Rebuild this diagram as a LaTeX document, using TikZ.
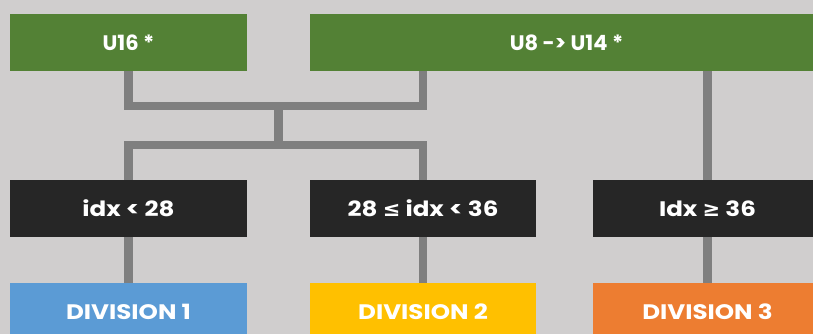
\documentclass[tikz,border=0pt]{standalone}
\usepackage{fontspec}
\setmainfont{Poppins}
\newfontfamily\widefont[FakeStretch=1.17]{Poppins}
\newfontfamily\symfont{DejaVu Sans}
\definecolor{bg}{HTML}{D0CECE}
\definecolor{grn}{HTML}{538135}
\definecolor{gry}{HTML}{7F7F7F}
\definecolor{blk}{HTML}{262626}
\definecolor{blu}{HTML}{5B9BD5}
\definecolor{ylw}{HTML}{FFC000}
\definecolor{org}{HTML}{ED7D31}
\tikzset{
  box/.style={rectangle, inner sep=0pt, minimum height=57pt, text=white,
    font=\bfseries\fontsize{21}{24}\selectfont},
  lowbox/.style={box, font=\widefont\bfseries\fontsize{21}{24}\selectfont},
  conn/.style={draw=gry, line width=8.5pt, line join=miter, line cap=butt}
}
\begin{document}
\begin{tikzpicture}[x=1pt,y=-1pt]
\clip (0,0) rectangle (813,334);
\fill[bg] (0,0) rectangle (813,334);
% top boxes
\node[box, fill=grn, minimum width=237pt] (u16) at (128.5,42.5) {U16 *};
\node[box, fill=grn, minimum width=513pt] (u8) at (566.5,42.5) {U8 -> U14 *};
% condition boxes
\node[lowbox, fill=blk, minimum width=237pt] (c1) at (128.5,208.5) {idx < 28};
\node[lowbox, fill=blk, minimum width=226pt] (c2) at (423,208.5) {28 {\symfont\bfseries ≤} idx < 36};
\node[lowbox, fill=blk, minimum width=229pt] (c3) at (707.5,208.5) {Idx {\symfont\bfseries ≥} 36};
% division boxes
\node[lowbox, fill=blu, minimum width=237pt] (d1) at (128.5,311.5) {DIVISION 1};
\node[lowbox, fill=ylw, minimum width=226pt] (d2) at (423,311.5) {DIVISION 2};
\node[lowbox, fill=org, minimum width=229pt] (d3) at (707.5,311.5) {DIVISION 3};
% junctions
\coordinate (j1) at (278.5,106);
\coordinate (j2) at (278.5,145);
% connectors
\draw[conn] (u16.south) |- (j1) -| (u8.south -| c2.north);
\draw[conn] (j1) -- (j2);
\draw[conn] (c1.north) |- (j2) -| (c2.north);
\draw[conn] (u8.south -| c3.north) -- (c3.north);
\draw[conn] (c1.south) -- (d1.north);
\draw[conn] (c2.south) -- (d2.north);
\draw[conn] (c3.south) -- (d3.north);
\end{tikzpicture}
\end{document}
